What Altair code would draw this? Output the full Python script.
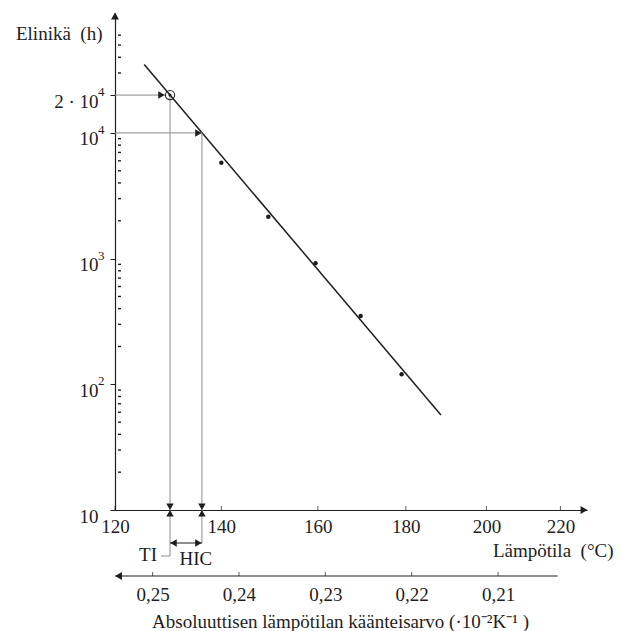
import altair as alt
import pandas as pd

# ---------------- values ----------------
temps_c = [140, 149.5, 159.5, 169.5, 179]          # measured points (°C)
life_h = [5800, 2150, 920, 350, 120]                # lifetime (h)
fit_temps_c = [125.3, 188.5]                        # regression line ends (°C)
fit_life_h = [35000, 57]
ti_temp_c = 130.1                                   # TI (20 000 h)
ti_life_h = 20000
hic_temp_c = 136.2                                  # temperature at 10 000 h
hic_life_h = 10000
temp_ticks = [120, 140, 160, 180, 200, 220]
inv_ticks = [0.25, 0.24, 0.23, 0.22, 0.21]
life_ticks = [10, 100, 1000, 10000, 20000]
life_label_base = ["10", "10", "10", "10", "2 · 10"]
life_label_exp = ["", "2", "3", "4", "4"]
life_minor = [20, 30, 40, 50, 60, 70, 80, 90,
              200, 300, 400, 500, 600, 700, 800, 900,
              2000, 3000, 4000, 5000, 6000, 7000, 8000, 9000,
              30000, 40000, 50000, 60000]
lower_axis_span = [0.2543, 0.2031]                  # reciprocal-axis line (10^-2 1/K)
x_left_temp = 120
x_right_inv = 0.1997
life_domain = [10, 90000]

y_title = "Elinikä\u00a0 (h)"
x_title = "Lämpötila\u00a0 (°C)"
low_title = "Absoluuttisen lämpötilan käänteisarvo (·10⁻²K⁻¹ )"


def inv(t):
    return 100.0 / (t + 273.15)


U_LEFT = inv(x_left_temp)
W, H = 472, 497
FONT = "Liberation Serif"
INK = "#1e1e1e"
GUIDE = "#8c8c8c"
FS = 19

xs = alt.Scale(domain=[x_right_inv, U_LEFT], reverse=True, zero=False, nice=False)
ys = alt.Scale(type="log", domain=life_domain, nice=False)


def X(field="u", axis=None):
    return alt.X(f"{field}:Q", scale=xs, axis=axis)


def Y(field="L", axis=None):
    return alt.Y(f"{field}:Q", scale=ys, axis=axis)


y_expr = " : ".join(f"datum.value == {v} ? '{lab}'" for v, lab in zip(life_ticks, life_label_base)) + " : ''"

top_axis = alt.Axis(
    values=[inv(t) for t in temp_ticks],
    labelExpr="'' + round(100 / datum.value - 273.15)",
    ticks=False, tickSize=0, domainColor=INK, domainWidth=1.2,
    labelPadding=7, labelBaseline="top", labelFlush=False, labelOverlap=False,
    title=x_title, titleX=498, titleY=46, titleAlign="right",
    titleBaseline="alphabetic", titleAnchor="end",
)
y_axis = alt.Axis(
    orient="left",
    values=life_ticks, labelExpr=y_expr, tickSize=5, tickColor=INK,
    domainColor=INK, domainWidth=1.2, labelPadding=12, labelOffset=6,
    labelFlush=False, labelOverlap=False,
    title=y_title, titleAngle=0, titleX=-13, titleY=26, titleAlign="right",
    titleBaseline="alphabetic", titleAnchor="end",
)
low_axis = alt.Axis(
    orient="bottom", offset=66, values=inv_ticks,
    labelExpr="replace(format(datum.value, '.2f'), '.', ',')",
    domain=False, ticks=False, tickSize=0, labelPadding=9, labelBaseline="top",
    labelFlush=False, labelOverlap=False,
    title=low_title, titleX=225, titleY=51, titleAlign="center",
    titleBaseline="alphabetic",
)

# ---------------- data frames ----------------
pts = pd.DataFrame({"u": [inv(t) for t in temps_c], "L": life_h})
fit = pd.DataFrame({"u": [inv(t) for t in fit_temps_c], "L": fit_life_h})
ti = pd.DataFrame({"u": [inv(ti_temp_c)], "L": [ti_life_h], "t": ["TI"]})
hic = pd.DataFrame({"u": [inv(hic_temp_c)], "L": [hic_life_h], "t": ["HIC"]})
both = pd.DataFrame({"u": [inv(ti_temp_c), inv(hic_temp_c)], "L": [10, 10]})
hguide = pd.DataFrame({"u": [U_LEFT], "u2": [inv(ti_temp_c)], "L": [ti_life_h]})
hguide2 = pd.DataFrame({"u": [U_LEFT], "u2": [inv(hic_temp_c)], "L": [hic_life_h]})
span = pd.DataFrame({"u": [inv(ti_temp_c)], "u2": [inv(hic_temp_c)]})
low = pd.DataFrame({"u": [lower_axis_span[0]], "u2": [lower_axis_span[1]]})
tticks = pd.DataFrame({"u": [inv(t) for t in temp_ticks]})
iticks = pd.DataFrame({"u": inv_ticks})
minor = pd.DataFrame({"u": [U_LEFT] * len(life_minor), "L": life_minor})
exps = pd.DataFrame({"L": life_ticks, "e": life_label_exp})
ytop = pd.DataFrame({"u": [U_LEFT], "L": [life_domain[1]]})
xend = pd.DataFrame({"u": [x_right_inv], "L": [life_domain[0]]})
lowend = pd.DataFrame({"u": [lower_axis_span[0]]})

AS = 56  # arrow-head size

layers = [
    # regression line (carries the temperature axis and the lifetime axis)
    alt.Chart(fit).mark_line(color=INK, strokeWidth=1.5).encode(x=X("u", top_axis), y=Y("L", y_axis)),
    # reciprocal temperature axis line (carries the lower axis)
    alt.Chart(low).mark_rule(color=INK, strokeWidth=1.2).encode(x=X("u", low_axis), x2="u2:Q", y=alt.value(H + 66)),
    # ticks
    alt.Chart(tticks).mark_tick(orient="vertical", size=4, thickness=1, color=INK, yOffset=-2).encode(x=X("u"), y=alt.value(H)),
    alt.Chart(iticks).mark_tick(orient="vertical", size=4, thickness=1, color=INK, yOffset=-2).encode(x=X("u"), y=alt.value(H + 66)),
    alt.Chart(minor).mark_point(shape="M0,0H1", size=36, filled=False, color=INK, strokeWidth=1.4, opacity=1, xOffset=3).encode(x=X("u"), y=Y("L")),
    # exponents of the lifetime labels
    alt.Chart(exps).mark_text(align="left", baseline="alphabetic", dy=1, font=FONT, fontSize=13, color=INK).encode(x=alt.value(-17), y=Y("L"), text="e:N"),
    # guide lines
    alt.Chart(hguide).mark_rule(color=GUIDE, strokeWidth=1, x2Offset=-5).encode(x=X("u"), x2="u2:Q", y=Y("L")),
    alt.Chart(hguide2).mark_rule(color=GUIDE, strokeWidth=1).encode(x=X("u"), x2="u2:Q", y=Y("L")),
    alt.Chart(ti).mark_rule(color=GUIDE, strokeWidth=1).encode(x=X("u"), y=Y("L"), y2=alt.value(H + 46)),
    alt.Chart(hic).mark_rule(color=GUIDE, strokeWidth=1).encode(x=X("u"), y=Y("L"), y2=alt.value(H + 33)),
    alt.Chart(ti).mark_rule(color=GUIDE, strokeWidth=1, x2Offset=-9).encode(x=X("u"), x2="u:Q", y=alt.value(H + 46)),
    alt.Chart(span).mark_rule(color=INK, strokeWidth=1).encode(x=X("u"), x2="u2:Q", y=alt.value(H + 33)),
    # arrow heads
    alt.Chart(ti).mark_point(shape="triangle-right", size=AS, filled=True, color=INK, opacity=1, xOffset=-8.5).encode(x=X("u"), y=Y("L")),
    alt.Chart(hic).mark_point(shape="triangle-right", size=AS, filled=True, color=INK, opacity=1, xOffset=-3.5).encode(x=X("u"), y=Y("L")),
    alt.Chart(both).mark_point(shape="triangle-down", size=AS, filled=True, color=INK, opacity=1, yOffset=-3.3).encode(x=X("u"), y=Y("L")),
    alt.Chart(both).mark_point(shape="triangle-up", size=AS, filled=True, color=INK, opacity=1, yOffset=3.3).encode(x=X("u"), y=Y("L")),
    alt.Chart(span).mark_point(shape="triangle-left", size=AS, filled=True, color=INK, opacity=1, xOffset=3.5).encode(x=X("u"), y=alt.value(H + 33)),
    alt.Chart(span).mark_point(shape="triangle-right", size=AS, filled=True, color=INK, opacity=1, xOffset=-3.5).encode(x=X("u2"), y=alt.value(H + 33)),
    alt.Chart(ytop).mark_point(shape="triangle-up", size=64, filled=True, color=INK, opacity=1, yOffset=3).encode(x=X("u"), y=Y("L")),
    alt.Chart(xend).mark_point(shape="triangle-right", size=64, filled=True, color=INK, opacity=1, xOffset=-3).encode(x=X("u"), y=Y("L")),
    alt.Chart(lowend).mark_point(shape="triangle-left", size=64, filled=True, color=INK, opacity=1, xOffset=3).encode(x=X("u"), y=alt.value(H + 66)),
    # measured points
    alt.Chart(pts).mark_circle(size=20, color=INK, opacity=1).encode(x=X("u"), y=Y("L")),
    alt.Chart(ti).mark_point(shape="circle", size=85, filled=False, color=INK, strokeWidth=1.1, opacity=1).encode(x=X("u"), y=Y("L")),
    alt.Chart(ti).mark_circle(size=10, color=INK, opacity=1).encode(x=X("u"), y=Y("L")),
    # TI / HIC labels
    alt.Chart(ti).mark_text(align="right", baseline="middle", dx=-13, font=FONT, fontSize=FS, color=INK).encode(x=X("u"), y=alt.value(H + 45), text="t:N"),
    alt.Chart(hic).mark_text(align="center", baseline="middle", dx=-6, font=FONT, fontSize=FS, color=INK).encode(x=X("u"), y=alt.value(H + 49), text="t:N"),
]

chart = (
    alt.layer(*layers)
    .resolve_axis(x="independent", y="independent")
    .properties(
        width=W, height=H,
        autosize=alt.AutoSizeParams(type="none"),
        padding={"left": 107, "top": 5, "right": 27, "bottom": 121},
    )
    .configure_view(stroke=None)
    .configure_axis(
        grid=False, labelFont=FONT, titleFont=FONT, labelColor=INK, titleColor=INK,
        titleFontWeight="normal", labelFontSize=FS, titleFontSize=FS,
    )
)

chart.save("out.html", embed_options={"renderer": "svg", "actions": False})
